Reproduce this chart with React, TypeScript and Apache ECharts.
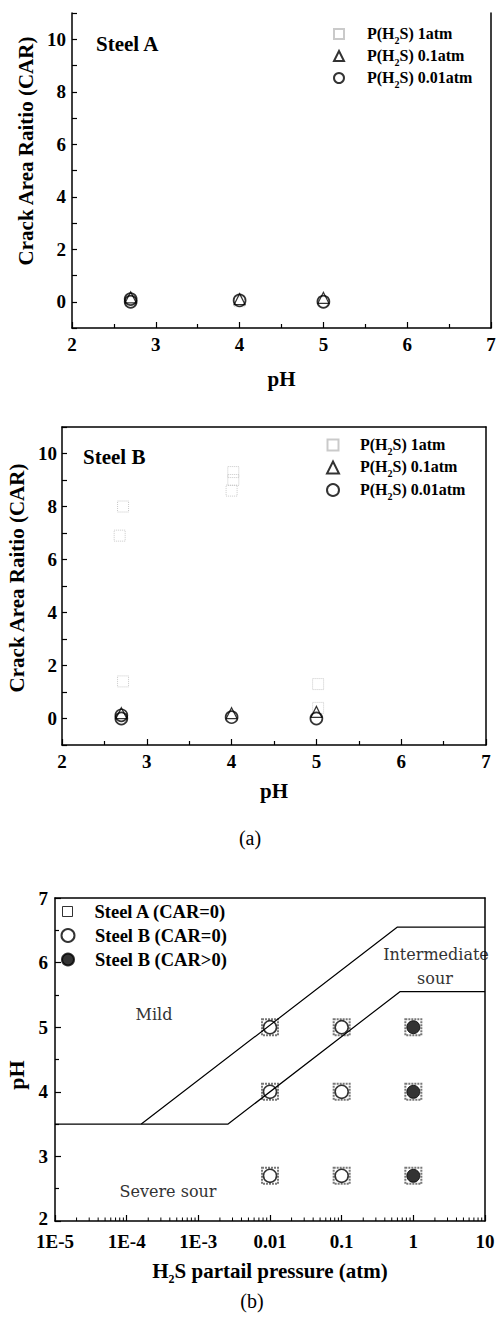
import React, { useEffect, useRef } from "react";
import * as echarts from "echarts";

// ---------- Data ----------
// Panel (a) top: Steel A, points are [pH, CAR]
const steelA_1atm: number[][] = [[2.7, 0], [4, 0], [5, 0]];
const steelA_01atm: number[][] = [[2.7, 0.17], [4, 0.1], [5, 0.15]];
const steelA_001atm: number[][] = [[2.7, 0.1], [2.7, 0.0], [4, 0.05], [5, 0.0]];

// Panel (a) bottom: Steel B, points are [pH, CAR]
const steelB_1atm: number[][] = [
  [2.72, 8.0], [2.68, 6.9], [2.72, 1.4],
  [4.02, 9.3], [4.02, 9.0], [4.0, 8.6],
  [5.02, 1.3], [5.02, 0.4],
];
const steelB_01atm: number[][] = [[2.7, 0.2], [4, 0.2], [5, 0.25]];
const steelB_001atm: number[][] = [[2.7, 0.12], [2.7, 0.0], [4, 0.05], [5, 0.0]];

// Panel (b): points are [H2S partial pressure (atm), pH]
const steelA_CAR0: number[][] = [
  [0.01, 2.7], [0.01, 4], [0.01, 5],
  [0.1, 2.7], [0.1, 4], [0.1, 5],
  [1, 2.7], [1, 4], [1, 5],
];
const steelB_CAR0: number[][] = [
  [0.01, 2.7], [0.01, 4], [0.01, 5],
  [0.1, 2.7], [0.1, 4], [0.1, 5],
];
const steelB_CARpos: number[][] = [[1, 2.7], [1, 4], [1, 5]];
const upperBoundary: number[][] = [[1e-5, 3.5], [1.6e-4, 3.5], [0.6, 6.55], [10, 6.55]];
const lowerBoundary: number[][] = [[1.6e-4, 3.5], [2.6e-3, 3.5], [0.65, 5.55], [10, 5.55]];

// Tick labels
const carTickLabels: number[] = [0, 2, 4, 6, 8, 10];
const pressureTickLabels: string[] = ["1E-5", "1E-4", "1E-3", "0.01", "0.1", "1", "10"];

const legendNamesA: string[] = ["P(H2S) 1atm", "P(H2S) 0.1atm", "P(H2S) 0.01atm"];
const legendNamesB: string[] = ["Steel A (CAR=0)", "Steel B (CAR=0)", "Steel B (CAR>0)"];

// ---------- Styles ----------
const FONT = "'Liberation Serif', 'Times New Roman', Times, serif";
const REGION_FONT = "'DejaVu Serif', serif";
const axisLineStyle = { color: "#000", width: 1.5 };
const tickLineStyle = { color: "#000", width: 1.2 };
const labelStyle = { fontFamily: FONT, fontWeight: "bold" as const, fontSize: 19, color: "#000" };

const squareFaint = { color: "rgba(0,0,0,0)", borderColor: "#bdbdbd", borderWidth: 1, borderType: "dotted" as const };
const triangleStyle = { color: "rgba(0,0,0,0)", borderColor: "#000", borderWidth: 1.2 };
const circleStyle = { color: "rgba(0,0,0,0)", borderColor: "#000", borderWidth: 1.7 };

const h2sRich = {
  a: { fontFamily: FONT, fontWeight: "bold", fontSize: 16, lineHeight: 18, verticalAlign: "top", color: "#000" },
  s: { fontFamily: FONT, fontWeight: "bold", fontSize: 10, lineHeight: 10, padding: [10, 0, 0, 0], verticalAlign: "top", color: "#000" },
};
const h2sFormatter = (name: string) => {
  const suffix = name.split(" ")[1];
  return `{a|P(H}{s|2}{a|S) ${suffix}}`;
};

function phAxis(gridIndex: number, nameGap: number, margin: number) {
  return {
    type: "value", gridIndex, min: 2, max: 7, interval: 1,
    name: "pH", nameLocation: "middle", nameGap,
    nameTextStyle: { fontFamily: FONT, fontWeight: "bold", fontSize: 21, color: "#000" },
    axisLine: { show: true, onZero: false, lineStyle: axisLineStyle },
    axisTick: { show: true, inside: true, length: 6, lineStyle: tickLineStyle },
    minorTick: { show: true, splitNumber: 2, length: 4, lineStyle: tickLineStyle },
    axisLabel: { ...labelStyle, margin },
    splitLine: { show: false },
    minorSplitLine: { show: false },
  };
}

function carAxis(gridIndex: number, nameGap: number, shift: number, margin: number) {
  return {
    type: "value", gridIndex, min: -1, max: 11, interval: 1,
    name: "Crack Area Raitio (CAR)", nameLocation: "middle", nameGap, nameRotate: 90,
    nameTextStyle: { fontFamily: FONT, fontWeight: "bold", fontSize: 21, color: "#000", padding: [0, 0, 0, shift] },
    axisLine: { show: true, onZero: false, lineStyle: axisLineStyle },
    axisTick: { show: true, inside: true, length: 5, lineStyle: tickLineStyle },
    axisLabel: {
      ...labelStyle, margin,
      formatter: (v: number) => (carTickLabels.indexOf(v) >= 0 ? String(v) : ""),
    },
    splitLine: { show: false },
  };
}

function borderAxis(gridIndex: number, position: string) {
  return {
    type: "value", gridIndex, position, min: 0, max: 1,
    axisLine: { show: true, onZero: false, lineStyle: axisLineStyle },
    axisTick: { show: false }, axisLabel: { show: false }, splitLine: { show: false },
  };
}

function legendRow(name: string, cx: number, cy: number, size: number, textH: number, textStart: number, extra: any) {
  return {
    data: [{ name, ...(extra.item || {}) }],
    left: cx - size / 2,
    top: cy - Math.max(size, textH) / 2,
    itemWidth: size, itemHeight: size, padding: 0,
    selectedMode: false,
    textStyle: { ...extra.textStyle, padding: [0, 0, 0, textStart - (cx + size / 2) - 5] },
    formatter: extra.formatter,
  };
}

const minorLogTicks: number[] = [];
for (let e = -5; e < 1; e++) for (let k = 2; k <= 9; k++) minorLogTicks.push(k * Math.pow(10, e));

const bottomLegendText = { fontFamily: FONT, fontWeight: "bold", fontSize: 18.5, color: "#000" };

const option: any = {
  animation: false,
  backgroundColor: "#fff",
  grid: [
    { left: 72, top: 13, width: 419, height: 315, outerBoundsMode: "none" },
    { left: 62, top: 427, width: 424, height: 318, outerBoundsMode: "none" },
    { left: 55, top: 898, width: 430, height: 323, outerBoundsMode: "none" },
  ],
  xAxis: [
    phAxis(0, 40, 7),
    phAxis(1, 35, 7),
    borderAxis(1, "top"),
    {
      type: "log", logBase: 10, gridIndex: 2, min: 1e-5, max: 10,
      name: "{a|H}{s|2}{a|S partail pressure (atm)}", nameLocation: "middle", nameGap: 39,
      nameTextStyle: {
        rich: {
          a: { fontFamily: FONT, fontWeight: "bold", fontSize: 21, lineHeight: 23, verticalAlign: "top", color: "#000" },
          s: { fontFamily: FONT, fontWeight: "bold", fontSize: 12, lineHeight: 12, padding: [13, 0, 0, 0], verticalAlign: "top", color: "#000" },
        },
      },
      axisLine: { show: true, onZero: false, lineStyle: axisLineStyle },
      axisTick: { show: true, inside: true, length: 6, lineStyle: tickLineStyle },
      axisLabel: {
        ...labelStyle, margin: 12, lineHeight: 16,
        formatter: (v: number) => {
          const e = Math.round(Math.log10(v));
          return pressureTickLabels[e + 5] ?? "";
        },
      },
      splitLine: { show: false },
    },
    borderAxis(2, "top"),
  ],
  yAxis: [
    carAxis(0, 35, 39, 6),
    borderAxis(0, "right"),
    carAxis(1, 34, 16, 5),
    borderAxis(1, "right"),
    {
      type: "value", gridIndex: 2, min: 2, max: 7, interval: 1,
      name: "pH", nameLocation: "middle", nameGap: 25, nameRotate: 90,
      nameTextStyle: { fontFamily: FONT, fontWeight: "bold", fontSize: 22, color: "#000", padding: [0, 31, 0, 0] },
      axisLine: { show: true, onZero: false, lineStyle: axisLineStyle },
      axisTick: { show: true, inside: true, length: 6, lineStyle: tickLineStyle },
      minorTick: { show: true, splitNumber: 2, length: 4, lineStyle: tickLineStyle },
      axisLabel: {
        ...labelStyle, margin: 7, lineHeight: 15,
        formatter: (v: number) => (v === 2 ? "{m|2}" : String(v)),
        rich: { m: { ...labelStyle, lineHeight: 15, padding: [0, 0, 5, 0] } },
      },
      splitLine: { show: false },
      minorSplitLine: { show: false },
    },
    borderAxis(2, "right"),
  ],
  legend: [
    legendRow(legendNamesA[0], 338, 35, 10, 20, 366, { textStyle: { rich: h2sRich }, formatter: h2sFormatter }),
    legendRow(legendNamesA[1], 338, 57, 10, 20, 366, { textStyle: { rich: h2sRich }, formatter: h2sFormatter }),
    legendRow(legendNamesA[2], 338, 79, 10, 20, 366, { textStyle: { rich: h2sRich }, formatter: h2sFormatter }),
    legendRow(legendNamesA[0], 332, 446, 11, 20, 359, { textStyle: { rich: h2sRich }, formatter: h2sFormatter }),
    legendRow(legendNamesA[1], 332, 468.5, 12, 20, 359, { textStyle: { rich: h2sRich }, formatter: h2sFormatter }),
    legendRow(legendNamesA[2], 332, 491, 12, 20, 359, { textStyle: { rich: h2sRich }, formatter: h2sFormatter }),
    legendRow(legendNamesB[0], 67, 911, 10, 18, 94, {
      item: { itemStyle: { color: "rgba(0,0,0,0)", borderColor: "#000", borderWidth: 1, borderType: "solid" } },
      textStyle: bottomLegendText,
    }),
    legendRow(legendNamesB[1], 67, 935, 13, 18, 94, { textStyle: bottomLegendText }),
    legendRow(legendNamesB[2], 67, 959, 12, 18, 94, { textStyle: bottomLegendText }),
  ],
  series: [
    // Steel A
    { name: legendNamesA[0], type: "scatter", xAxisIndex: 0, yAxisIndex: 0, data: steelA_1atm, symbol: "rect", symbolSize: 10, itemStyle: squareFaint, silent: true, z: 2 },
    { name: legendNamesA[1], type: "scatter", xAxisIndex: 0, yAxisIndex: 0, data: steelA_01atm, symbol: "triangle", symbolSize: 11, itemStyle: triangleStyle, silent: true, z: 3 },
    { name: legendNamesA[2], type: "scatter", xAxisIndex: 0, yAxisIndex: 0, data: steelA_001atm, symbol: "circle", symbolSize: 12, itemStyle: circleStyle, silent: true, z: 4 },
    // Steel B
    { name: legendNamesA[0], type: "scatter", xAxisIndex: 1, yAxisIndex: 2, data: steelB_1atm, symbol: "rect", symbolSize: 11, itemStyle: squareFaint, silent: true, z: 2 },
    { name: legendNamesA[1], type: "scatter", xAxisIndex: 1, yAxisIndex: 2, data: steelB_01atm, symbol: "triangle", symbolSize: 11, itemStyle: triangleStyle, silent: true, z: 3 },
    { name: legendNamesA[2], type: "scatter", xAxisIndex: 1, yAxisIndex: 2, data: steelB_001atm, symbol: "circle", symbolSize: 12, itemStyle: circleStyle, silent: true, z: 4 },
    // Panel (b)
    {
      name: "Upper boundary", type: "line", xAxisIndex: 3, yAxisIndex: 4, data: upperBoundary,
      symbol: "none", lineStyle: { color: "#000", width: 1.2 }, silent: true, z: 5,
    },
    {
      name: "Lower boundary", type: "line", xAxisIndex: 3, yAxisIndex: 4, data: lowerBoundary,
      symbol: "none", lineStyle: { color: "#000", width: 1.2 }, silent: true, z: 5,
    },
    {
      name: legendNamesB[0], type: "scatter", xAxisIndex: 3, yAxisIndex: 4, data: steelA_CAR0, symbol: "rect", symbolSize: 16,
      itemStyle: { color: "rgba(0,0,0,0)", borderColor: "#555", borderWidth: 2, borderType: [2, 1] }, silent: true, z: 2,
    },
    {
      name: legendNamesB[1], type: "scatter", xAxisIndex: 3, yAxisIndex: 4, data: steelB_CAR0, symbol: "circle", symbolSize: 13,
      itemStyle: { color: "rgba(0,0,0,0)", borderColor: "#000", borderWidth: 1.6 }, silent: true, z: 3,
    },
    {
      name: legendNamesB[2], type: "scatter", xAxisIndex: 3, yAxisIndex: 4, data: steelB_CARpos, symbol: "circle", symbolSize: 13,
      itemStyle: { color: "#000", borderColor: "#000", borderWidth: 1 }, silent: true, z: 3,
    },
    {
      type: "custom", xAxisIndex: 3, yAxisIndex: 4, silent: true, clip: false, z: 6,
      data: minorLogTicks.map((v) => [v, 2]),
      renderItem: (_p: any, api: any) => {
        const pt = api.coord([api.value(0), api.value(1)]);
        return {
          type: "line",
          shape: { x1: pt[0], y1: pt[1], x2: pt[0], y2: pt[1] - 3.5 },
          style: { stroke: "#000", lineWidth: 1 },
        };
      },
    },
  ],
  graphic: [
    { type: "text", x: 96, y: 44, style: { text: "Steel A", fontFamily: FONT, fontWeight: "bold", fontSize: 21, fill: "#000", verticalAlign: "middle", align: "left" } },
    { type: "text", x: 83, y: 457, style: { text: "Steel B", fontFamily: FONT, fontWeight: "bold", fontSize: 21, fill: "#000", verticalAlign: "middle", align: "left" } },
    { type: "text", x: 250, y: 838, style: { text: "(a)", fontFamily: FONT, fontSize: 20, fill: "#000", verticalAlign: "middle", align: "center" } },
    { type: "text", x: 252, y: 1301, style: { text: "(b)", fontFamily: FONT, fontSize: 20, fill: "#000", verticalAlign: "middle", align: "center" } },
    { type: "text", x: 154, y: 1014, style: { text: "Mild", fontFamily: REGION_FONT, fontSize: 16, fill: "#333", verticalAlign: "middle", align: "center" } },
    { type: "text", x: 436, y: 954, style: { text: "Intermediate", fontFamily: REGION_FONT, fontSize: 16, fill: "#333", verticalAlign: "middle", align: "center" } },
    { type: "text", x: 435, y: 978, style: { text: "sour", fontFamily: REGION_FONT, fontSize: 16, fill: "#333", verticalAlign: "middle", align: "center" } },
    { type: "text", x: 168, y: 1191, style: { text: "Severe sour", fontFamily: REGION_FONT, fontSize: 16, fill: "#333", verticalAlign: "middle", align: "center" } },
  ],
};

export default function App() {
  const ref = useRef<HTMLDivElement>(null);
  useEffect(() => {
    if (!ref.current) return;
    const chart = echarts.init(ref.current, undefined, { renderer: "svg" });
    chart.setOption(option);
    return () => chart.dispose();
  }, []);
  return <div ref={ref} style={{ position: "absolute", left: 0, top: 0, width: 496, height: 1322, background: "#fff" }} />;
}
